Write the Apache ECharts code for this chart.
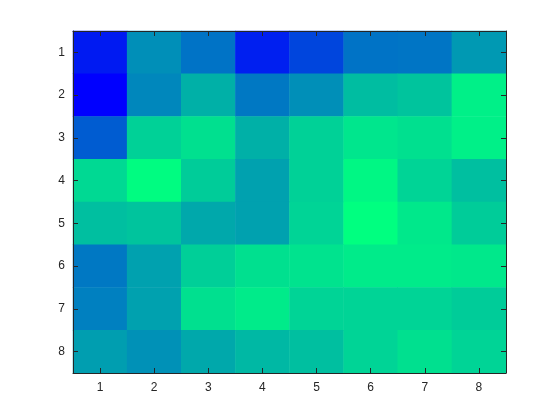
<!DOCTYPE html>
<html><head><meta charset="utf-8">
<script src="https://cdn.jsdelivr.net/npm/echarts@6/dist/echarts.min.js"></script>
<style>html,body{margin:0;padding:0;background:#fff}#c{width:560px;height:420px}</style>
</head><body><div id="c"></div>
<script>
const xLabels = ['1','2','3','4','5','6','7','8'];
const yLabels = ['1','2','3','4','5','6','7','8'];
const row1 = [0.10,0.56,0.45,0.12,0.27,0.45,0.46,0.60];
const row2 = [0.00,0.53,0.69,0.47,0.56,0.74,0.77,0.94];
const row3 = [0.36,0.82,0.88,0.69,0.82,0.90,0.88,0.94];
const row4 = [0.85,0.99,0.80,0.63,0.82,0.97,0.83,0.75];
const row5 = [0.75,0.77,0.66,0.63,0.83,1.00,0.91,0.80];
const row6 = [0.47,0.63,0.81,0.88,0.89,0.92,0.92,0.91];
const row7 = [0.50,0.63,0.88,0.92,0.83,0.83,0.83,0.80];
const row8 = [0.62,0.57,0.66,0.72,0.75,0.83,0.88,0.83];
const rows = [row1,row2,row3,row4,row5,row6,row7,row8];
const data = [];
rows.forEach((r,yi)=>r.forEach((v,xi)=>data.push([xi,yi,v])));
const axisCol = '#262626';
const font = {color:axisCol,fontSize:12,fontFamily:'Liberation Sans, Arial, sans-serif'};
function xAx(pos, show){
  return {type:'category',data:xLabels,position:pos,z:10,
    axisLine:{show:true,lineStyle:{color:axisCol,width:1}},
    axisTick:{show:true,inside:true,length:5,alignWithLabel:true,lineStyle:{color:axisCol}},
    axisLabel:Object.assign({show:show,margin:9},font),splitLine:{show:false}};
}
function yAx(pos, show){
  return {type:'category',data:yLabels,inverse:true,position:pos,z:10,
    axisLine:{show:true,lineStyle:{color:axisCol,width:1}},
    axisTick:{show:true,inside:true,length:5,alignWithLabel:true,lineStyle:{color:axisCol}},
    axisLabel:Object.assign({show:show,margin:8},font),splitLine:{show:false}};
}
const chart = echarts.init(document.getElementById('c'));
chart.setOption({
  animation:false,
  backgroundColor:'#fff',
  grid:{left:73,top:31,width:433,height:342},
  xAxis:[xAx('bottom',true),xAx('top',false)],
  yAxis:[yAx('left',true),yAx('right',false)],
  visualMap:{show:false,min:0,max:1,dimension:2,inRange:{color:['#0000ff','#00ff80']}},
  series:[{type:'heatmap',data:data,xAxisIndex:0,yAxisIndex:0,itemStyle:{borderWidth:0},emphasis:{disabled:true}}]
});
</script></body></html>
